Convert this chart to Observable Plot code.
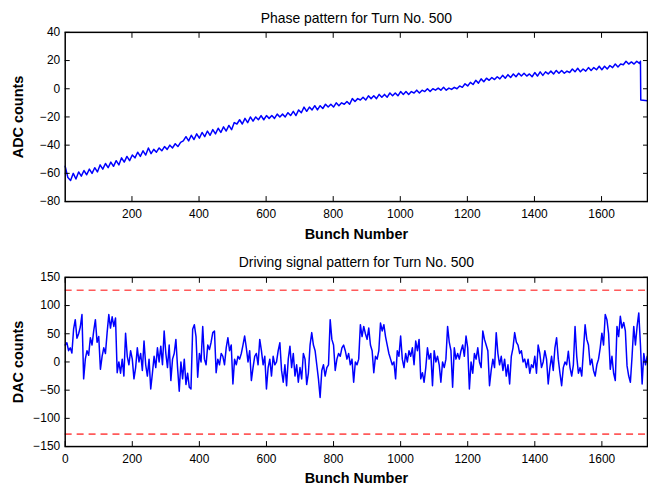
<!DOCTYPE html>
<html>
<head>
<meta charset="utf-8">
<script src="https://cdn.jsdelivr.net/npm/d3@7"></script>
<script src="https://cdn.jsdelivr.net/npm/@observablehq/plot@0.6"></script>
<style>
  html, body { margin: 0; padding: 0; background: #fff; }
  #wrap { width: 648px; height: 489px; overflow: hidden; }
  #wrap svg { display: block; }
</style>
</head>
<body>
<div id="wrap"></div>
<script>
// ---- Top panel: phase pattern (ADC counts), sampled every 8 bunches from bunch 1 ----
const phaseStart = 1;
const phaseStep = 8;
const phaseValues = [
  -55,-63,-65,-60,-64,-59,-62,-58,-61,-57,
  -60,-56,-59,-54,-57,-53,-56,-52,-55,-51,
  -54,-49,-52,-48,-51,-47,-49,-45,-48,-44,
  -47,-42,-46,-43,-45,-42,-44,-41,-43,-40,
  -42,-39,-41,-38,-37,-34,-37,-33,-36,-32,
  -35,-31,-34,-30,-33,-29,-32,-28,-31,-27,
  -30,-26,-29,-24,-25,-22,-25,-21,-24,-20,
  -23,-20,-22,-19,-22,-19,-21,-19,-21,-18,
  -20,-18,-20,-17,-19,-16,-19,-15,-17,-13,
  -16,-13,-15,-12,-15,-12,-14,-11,-13,-11,
  -13,-10,-12,-10,-11,-9,-11,-7,-9,-7,
  -8,-6,-8,-5,-7,-5,-7,-4,-6,-4,
  -6,-3,-5,-3,-5,-2,-4,-2,-4,-2,
  -3,-1,-3,-1,-2,0,-2,0,-1,0.5,
  -1,1,-1,0.5,-0.5,1,0,2,1,3.5,
  2,4.5,3,6,4,7,5,7.5,6,8,
  6.5,8.5,7,9.5,7.5,10,8,10.5,8.5,11,
  9,11,9,10.5,8.5,11.5,9,12,9.5,12,
  10.5,12.5,10.5,13,11,13,11,12.5,11.5,14,
  12,14.5,12,14,12.5,15,13,15,13.5,16,
  13.5,16,14,16.5,15,17.5,15.5,17.5,17,19.5,
  17.5,19,17.5,19.5,18
];
// tail after the last sample: step down near the end of the train
const phaseTailBunch = [1716, 1717, 1737];
const phaseTailValue = [19.5, -8, -8.5];

// ---- Bottom panel: driving signal (DAC counts), sampled every 5 bunches from bunch 0 ----
const driveStart = 0;
const driveStep = 5;
const driveValues = [
  30,34,20,25,16,58,75,42,50,62,
  84,-30,5,20,12,43,30,55,75,35,
  45,-13,10,25,15,52,84,60,80,63,
  78,-19,0,-20,5,-25,51,10,-5,20,
  5,-30,-10,25,0,15,-15,37,-5,-25,
  5,-48,-20,10,-10,25,0,28,-5,55,
  15,-10,30,-33,5,15,40,-10,-52,0,
  -30,5,-40,-20,-45,-48,58,66,45,-27,
  15,0,63,5,-5,30,22,35,52,55,
  -19,5,-5,15,10,-5,25,43,20,30,
  -39,5,-5,10,5,15,30,46,25,0,
  20,-33,-10,10,15,-5,40,20,-5,10,
  -48,-10,5,-25,10,-5,0,20,34,-15,
  -36,-5,-42,5,28,-10,15,-25,-5,-36,
  -10,-30,15,5,-40,-20,30,52,30,20,
  -5,-30,-63,-15,-5,-25,-10,-5,75,40,
  30,-15,5,15,10,25,30,20,5,15,
  -5,5,-36,0,-5,5,66,45,63,50,
  40,60,30,20,-19,10,5,20,69,55,
  66,45,30,15,5,-5,0,-30,20,10,
  46,5,-10,15,0,20,10,25,-5,37,
  20,40,-30,-19,-36,-10,25,5,15,-42,
  20,0,10,-5,-36,0,-10,5,63,35,
  20,-45,25,5,15,5,20,30,10,46,
  25,-48,0,-20,15,5,25,0,-10,55,
  40,30,20,-42,-15,5,-10,52,15,-5,
  10,-15,5,-25,-5,-39,10,25,52,35,
  30,15,20,0,5,-10,5,-20,-5,-10,
  10,-20,30,15,-10,0,20,5,-39,-10,
  10,-15,25,43,5,-20,-42,-10,0,-5,
  19,-10,-25,-5,63,10,-20,-10,-25,20,
  66,40,30,-5,5,-15,-25,-5,5,25,
  51,30,84,75,50,-13,10,-20,-33,63,
  45,81,60,70,55,-7,-25,-36,10,63,
  30,63,87,30,-39,15,-5,10
];
const driveLimits = [127, -128];

// ---- tick values ----
const topXTicks = [200, 400, 600, 800, 1000, 1200, 1400, 1600];
const topYTicks = [-80, -60, -40, -20, 0, 20, 40];
const botXTicks = [0, 200, 400, 600, 800, 1000, 1200, 1400, 1600];
const botYTicks = [-150, -100, -50, 0, 50, 100, 150];

// ---- build tables ----
const phaseData = phaseValues.map((v, i) => ({bunch: phaseStart + i * phaseStep, adc: v}))
  .concat(phaseTailBunch.map((b, i) => ({bunch: b, adc: phaseTailValue[i]})));
const driveData = driveValues.map((v, i) => ({bunch: driveStart + i * driveStep, dac: v}));

const font = "'Liberation Sans', Arial, Helvetica, sans-serif";
const W = 651;
const fmt = d3.format("d");

function axes(xTicks, yTicks) {
  return [
    Plot.frame({stroke: "black", strokeWidth: 1.5}),
    Plot.axisX({anchor: "bottom", ticks: xTicks, tickSize: -5, tickPadding: 13, tickFormat: fmt, label: null}),
    Plot.axisX({anchor: "top", ticks: xTicks, tickSize: -5, label: null, tickFormat: () => ""}),
    Plot.axisY({anchor: "left", ticks: yTicks, tickSize: -5, tickPadding: 10, tickFormat: fmt, label: null}),
    Plot.axisY({anchor: "right", ticks: yTicks, tickSize: -5, label: null, tickFormat: () => ""})
  ];
}

function labels(title, ylabel, titleDy, xlabDy) {
  return [
    Plot.text([title], {frameAnchor: "top", dy: titleDy, fontSize: 14, lineAnchor: "middle", textAnchor: "middle"}),
    Plot.text(["Bunch Number"], {frameAnchor: "bottom", dy: xlabDy, fontSize: 14.5, fontWeight: "bold", lineAnchor: "middle", textAnchor: "middle"}),
    Plot.text([ylabel], {frameAnchor: "left", dx: -47, rotate: -90, fontSize: 14.5, fontWeight: "bold", lineAnchor: "middle", textAnchor: "middle"})
  ];
}

const phaseChart = Plot.plot({
  width: W, height: 245,
  marginLeft: 65, marginRight: 1, marginTop: 32, marginBottom: 43,
  style: {fontFamily: font, fontSize: "12px", color: "black", background: "white", overflow: "visible"},
  x: {domain: [1, 1737]},
  y: {domain: [-80, 40]},
  marks: [
    Plot.line(phaseData, {x: "bunch", y: "adc", stroke: "#0000ff", strokeWidth: 1.5}),
    ...axes(topXTicks, topYTicks),
    ...labels("Phase pattern for Turn No. 500", "ADC counts", -14, 33)
  ]
});

const driveChart = Plot.plot({
  width: W, height: 244,
  marginLeft: 65, marginRight: 1, marginTop: 33, marginBottom: 41,
  style: {fontFamily: font, fontSize: "12px", color: "black", background: "white", overflow: "visible"},
  x: {domain: [0, 1736]},
  y: {domain: [-150, 150]},
  marks: [
    Plot.ruleY(driveLimits, {stroke: "#ff5a5a", strokeWidth: 1.6, strokeDasharray: "7,5"}),
    Plot.line(driveData, {x: "bunch", y: "dac", stroke: "#0000ff", strokeWidth: 1.5}),
    ...axes(botXTicks, botYTicks),
    ...labels("Driving signal pattern for Turn No. 500", "DAC counts", -15, 32)
  ]
});

document.getElementById("wrap").append(phaseChart, driveChart);
</script>
</body>
</html>
